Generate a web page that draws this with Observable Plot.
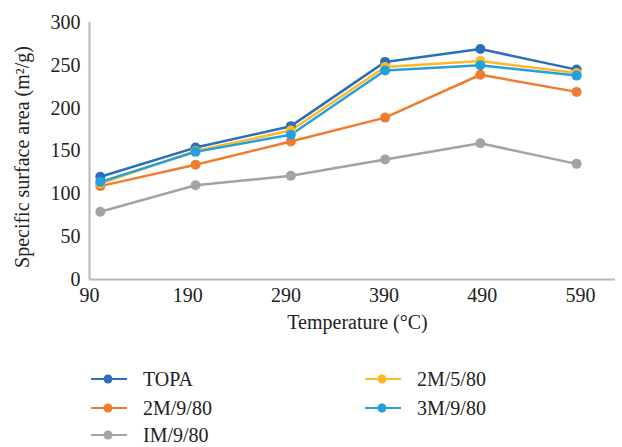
<!DOCTYPE html>
<html><head><meta charset="utf-8">
<script src="https://cdn.jsdelivr.net/npm/d3@7"></script>
<script src="https://cdn.jsdelivr.net/npm/@observablehq/plot@0.6"></script>
<style>
body{margin:0;background:#fff;font-family:"Liberation Serif","Times New Roman","DejaVu Serif",serif;overflow:hidden;}
#legend{position:relative;width:622px;height:107px;}
.item{position:absolute;display:flex;align-items:center;font-size:20px;line-height:20px;color:#222;height:20px;}
.item span{margin-left:16px;}
svg text{font-family:"Liberation Serif","Times New Roman","DejaVu Serif",serif !important;}
</style>
</head><body>
<div id="chart"></div>
<div id="legend"></div>
<script>
const temperatures = [101, 198, 295, 391, 488, 586];
const tickLabels = [90, 190, 290, 390, 490, 590];
const seriesNames = ["TOPA", "2M/9/80", "IM/9/80", "2M/5/80", "3M/9/80"];
const seriesColors = ["#2b6fba", "#ef7d30", "#a3a3a3", "#fdb922", "#24a0dc"];
const topa   = [120, 154, 179, 254, 269, 245];
const m2_9_80 = [109, 134, 161, 189, 239, 219];
const im_9_80 = [79, 110, 121, 140, 159, 135];
const m2_5_80 = [112, 150, 174, 248, 255, 241];
const m3_9_80 = [114, 149, 169, 244, 250, 238];
const seriesValues = [topa, m2_9_80, im_9_80, m2_5_80, m3_9_80];

const rows = [];
seriesNames.forEach((name, i) => {
  temperatures.forEach((t, j) => rows.push({series: name, t, v: seriesValues[i][j]}));
});

const serif = '"Liberation Serif", "Times New Roman", "DejaVu Serif", serif';
const axisColor = "#b8b8b8";
const chart = Plot.plot({
  width: 622,
  height: 340,
  marginLeft: 89,
  marginRight: 7,
  marginTop: 22,
  marginBottom: 61,
  style: {fontFamily: serif, fontSize: "20px", color: "#222", background: "#fff"},
  x: {domain: [90, 625.6], axis: null},
  y: {domain: [0, 300], axis: null},
  color: {domain: seriesNames, range: seriesColors},
  marks: [
    Plot.ruleY([0], {stroke: axisColor, strokeWidth: 2}),
    Plot.ruleX([90], {stroke: axisColor, strokeWidth: 2}),
    Plot.axisX({ticks: tickLabels, tickSize: 0, tickPadding: 8, fontSize: 20, fontFamily: serif, fontVariant: "normal", label: null}),
    Plot.axisY({ticks: d3.range(0, 301, 50), tickSize: 0, tickPadding: 9, fontSize: 20, fontFamily: serif, fontVariant: "normal", label: null}),
    Plot.text(["Temperature (°C)"], {frameAnchor: "bottom", dy: 49, dx: 5, fontSize: 20, fontFamily: serif, fill: "#222", textAnchor: "middle"}),
    Plot.text(["Specific surface area (m²/g)"], {frameAnchor: "left", dx: -67, dy: 6, rotate: -90, fontSize: 20, fontFamily: serif, fill: "#222", textAnchor: "middle"}),
    Plot.line(rows, {x: "t", y: "v", z: "series", stroke: "series", strokeWidth: 2.5}),
    Plot.dot(rows, {x: "t", y: "v", fill: "series", r: 5})
  ]
});
document.getElementById("chart").appendChild(chart);

const legend = document.getElementById("legend");
const legendPos = [[91, 29], [91, 58], [91, 85], [365, 29], [365, 58]];
seriesNames.forEach((name, i) => {
  const d = document.createElement("div");
  d.className = "item";
  d.style.left = legendPos[i][0] + "px";
  d.style.top = legendPos[i][1] + "px";
  d.innerHTML = `<svg width="36" height="14"><line x1="0" x2="36" y1="7" y2="7" stroke="${seriesColors[i]}" stroke-width="2"/><circle cx="17" cy="7" r="4.5" fill="${seriesColors[i]}"/></svg><span>${name}</span>`;
  legend.appendChild(d);
});
</script>
</body></html>
